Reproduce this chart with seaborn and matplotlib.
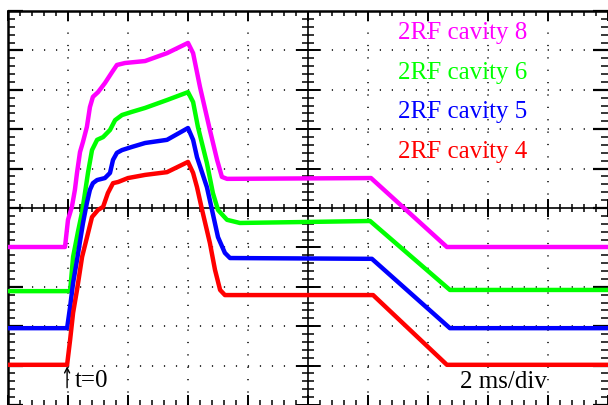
import numpy as np
import pandas as pd
import matplotlib
matplotlib.use("Agg")
import matplotlib.pyplot as plt
import seaborn as sns

# scope traces: time in ms (2 ms/div), level in screen divisions
t_cav8 = [-2.0, -0.10, 0.0, 0.13, 0.23, 0.30, 0.40, 0.50, 0.63, 0.73, 0.83, 1.00, 1.23, 1.47, 1.63, 1.90,
          2.57, 3.30, 4.00, 4.17, 4.40, 4.73, 4.97, 5.13, 5.30, 10.10, 12.63, 18.0]
v_cav8 = [4.01, 4.01, 4.70, 5.03, 5.46, 5.89, 6.42, 6.68, 7.06, 7.56, 7.82, 7.94, 8.17, 8.45, 8.63, 8.68,
          8.73, 8.93, 9.19, 8.93, 8.07, 6.98, 6.22, 5.79, 5.74, 5.76, 4.01, 4.01]

t_cav6 = [-2.0, 0.07, 0.17, 0.33, 0.47, 0.67, 0.80, 0.97, 1.17, 1.40, 1.57, 1.80, 2.13, 2.57, 3.30,
          4.00, 4.17, 4.33, 4.63, 4.83, 5.00, 5.30, 5.73, 10.07, 12.73, 18.0]
v_cav6 = [2.89, 2.89, 3.76, 4.39, 4.90, 5.91, 6.47, 6.73, 6.80, 6.98, 7.23, 7.36, 7.44, 7.54, 7.74,
          7.94, 7.69, 7.06, 6.14, 5.38, 4.95, 4.70, 4.62, 4.67, 2.92, 2.92]

t_cav5 = [-2.0, -0.03, 0.07, 0.17, 0.30, 0.50, 0.63, 0.73, 0.83, 0.97, 1.23, 1.40, 1.50, 1.63, 1.80, 2.13,
          2.57, 3.30, 4.00, 4.17, 4.30, 4.63, 4.80, 5.00, 5.23, 5.40, 10.13, 12.73, 18.0]
v_cav5 = [1.95, 1.95, 2.49, 3.10, 3.68, 4.62, 5.13, 5.46, 5.63, 5.71, 5.76, 5.89, 6.22, 6.40, 6.47, 6.55,
          6.65, 6.73, 7.03, 6.73, 6.29, 5.53, 4.95, 4.26, 3.86, 3.73, 3.71, 1.95, 1.95]

t_cav4 = [-2.0, -0.03, 0.07, 0.17, 0.30, 0.47, 0.67, 0.80, 1.00, 1.17, 1.33, 1.50, 1.67, 2.00, 2.57, 3.30,
          4.00, 4.17, 4.30, 4.47, 4.73, 4.90, 5.07, 5.23, 10.17, 12.63, 18.0]
v_cav4 = [1.02, 1.02, 1.65, 2.34, 2.92, 3.76, 4.37, 4.77, 4.95, 5.03, 5.38, 5.63, 5.66, 5.76, 5.84, 5.91,
          6.17, 5.89, 5.53, 4.95, 4.11, 3.43, 2.92, 2.79, 2.79, 1.02, 1.02]

names = ["2RF cavity 8", "2RF cavity 6", "2RF cavity 5", "2RF cavity 4"]
colors = ["#FF00FF", "#00FF00", "#0000FF", "#FF0000"]
label_level = [9.29, 8.27, 7.28, 6.27]

frames = []
for name, t, v in zip(names, [t_cav8, t_cav6, t_cav5, t_cav4], [v_cav8, v_cav6, v_cav5, v_cav4]):
    frames.append(pd.DataFrame({"t": t, "v": v, "trace": name}))
df = pd.concat(frames, ignore_index=True)

sns.set_style("white")
plt.rcParams["font.family"] = ["Liberation Serif", "DejaVu Serif"]

fig = plt.figure(figsize=(6.08, 4.05), dpi=100)
ax = fig.add_axes([8 / 608, 0, 600 / 608, 394 / 405])

x_min, x_max = -2, 18
y_min, y_max = 0, 10
x_major = np.arange(x_min, x_max + 0.01, 2)
x_minor = np.arange(x_min, x_max + 0.01, 0.4)
y_major = np.arange(y_min, y_max + 0.01, 1)
y_minor = np.arange(y_min, y_max + 0.01, 0.2)

# dotted graticule
for yv in y_major[1:-1]:
    if yv != 5:
        ax.axhline(yv, color="black", lw=1.1, ls=(0, (0.8, 7.05)), zorder=1)
for xv in x_major[1:-1]:
    if xv != 8:
        ax.axvline(xv, color="black", lw=1.1, ls=(0, (0.8, 7.3)), zorder=1)

# centre cross with its ticks
ax.axhline(5, color="black", lw=1.2, zorder=2)
ax.axvline(8, color="black", lw=1.2, zorder=2)
ax.vlines(x_minor, 5 - 0.1, 5 + 0.1, color="black", lw=1.1, zorder=2)
ax.vlines(x_major, 5 - 0.22, 5 + 0.22, color="black", lw=1.4, zorder=2)
ax.hlines(y_minor, 8 - 0.2, 8 + 0.2, color="black", lw=1.1, zorder=2)
ax.hlines(y_major, 8 - 0.4, 8 + 0.4, color="black", lw=1.4, zorder=2)

sns.lineplot(data=df, x="t", y="v", hue="trace", hue_order=names, palette=colors,
             estimator=None, sort=False, lw=3.2, legend=False, ax=ax, zorder=3)

for name, c, lv in zip(names, colors, label_level):
    ax.text(11.0, lv, name, color=c, fontsize=18, va="baseline", ha="left")

# t=0 marker
ax.annotate("", xy=(-0.03, 0.98), xytext=(-0.03, 0.44),
            arrowprops=dict(arrowstyle="->", color="black", lw=1.0, mutation_scale=9,
                            shrinkA=0, shrinkB=0), zorder=4)
ax.text(0.22, 0.46, "t=0", fontsize=18, va="baseline", ha="left", color="black")
ax.text(13.05, 0.43, "2 ms/div", fontsize=18, va="baseline", ha="left", color="black")

ax.set_xlim(x_min, x_max)
ax.set_ylim(y_min, y_max)
ax.set_xticks(x_major)
ax.set_xticks(x_minor, minor=True)
ax.set_yticks(y_major)
ax.set_yticks(y_minor, minor=True)
ax.set_xticklabels([])
ax.set_yticklabels([])
ax.set_xlabel("")
ax.set_ylabel("")
ax.tick_params(which="both", direction="in", top=True, bottom=True, left=True, right=True, color="black")
ax.tick_params(axis="x", which="major", length=7, width=1.4)
ax.tick_params(axis="x", which="minor", length=3.6, width=1.1)
ax.tick_params(axis="y", which="major", length=11, width=1.6)
ax.tick_params(axis="y", which="minor", length=5, width=1.1)

for side in ["right", "bottom"]:
    ax.spines[side].set_visible(False)
for side in ["left", "top"]:
    ax.spines[side].set_linewidth(1.8)
    ax.spines[side].set_color("black")

fig.savefig("out.png", dpi=100)
